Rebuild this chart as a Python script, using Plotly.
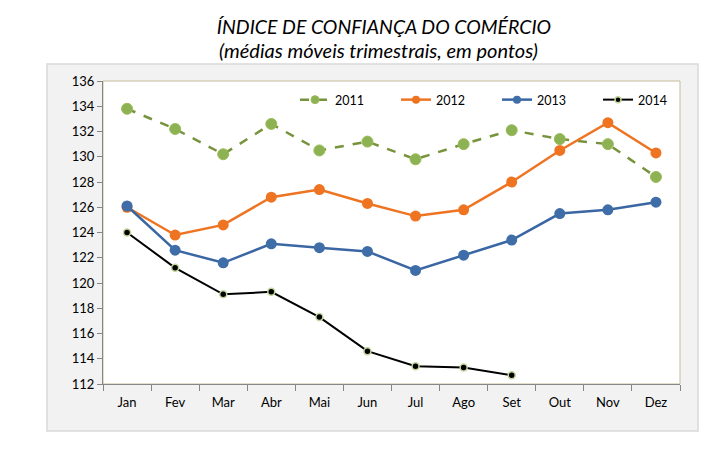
import plotly.graph_objects as go

months = ["Jan", "Fev", "Mar", "Abr", "Mai", "Jun", "Jul", "Ago", "Set", "Out", "Nov", "Dez"]
y2011 = [133.8, 132.2, 130.2, 132.6, 130.5, 131.2, 129.8, 131.0, 132.1, 131.4, 131.0, 128.4]
y2012 = [126.0, 123.8, 124.6, 126.8, 127.4, 126.3, 125.3, 125.8, 128.0, 130.5, 132.7, 130.3]
y2013 = [126.1, 122.6, 121.6, 123.1, 122.8, 122.5, 121.0, 122.2, 123.4, 125.5, 125.8, 126.4]
y2014 = [124.0, 121.2, 119.1, 119.3, 117.3, 114.6, 113.4, 113.3, 112.7]
y_ticks = list(range(112, 137, 2))

FONT = "Lato"
W, H = 723, 454
L, R, T, B = 103, 680, 81, 384  # plot area in pixels
PW, PH = R - L, B - T


def px_x(p):
    return (p - L) / PW


def px_y(p):
    return (B - p) / PH


styles = [
    ("2011", y2011, dict(color="#77933C", width=2.5, dash="dash"),
     dict(color="#8DB253", size=11, line=dict(color="#9BBB59", width=1)), 8),
    ("2012", y2012, dict(color="#EE7422", width=2.5),
     dict(color="#EE7422", size=11), 8),
    ("2013", y2013, dict(color="#3A67A3", width=2.5),
     dict(color="#3F6DA8", size=11), 8),
    ("2014", y2014, dict(color="#000000", width=2),
     dict(color="#000000", size=7, line=dict(color="#C3D69B", width=1.5)), 6),
]

fig = go.Figure()
for name, ys, line, marker, _ in styles:
    fig.add_trace(go.Scatter(
        x=months[:len(ys)], y=ys, name=name, mode="lines+markers",
        line=line, marker=marker, showlegend=False))
# legend entries (smaller symbols, as in the reference legend)
for name, ys, line, marker, lsize in styles:
    m = dict(marker)
    m["size"] = lsize
    fig.add_trace(go.Scatter(
        x=[None], y=[None], name=name, mode="lines+markers",
        line=line, marker=m, showlegend=True, hoverinfo="skip"))

fig.update_layout(
    width=W, height=H,
    margin=dict(l=L, r=W - R, t=T, b=H - B, autoexpand=False),
    paper_bgcolor="white", plot_bgcolor="white",
    font=dict(family=FONT, size=12, color="#000000"),
    title=dict(
        text="<i>ÍNDICE DE CONFIANÇA DO COMÉRCIO</i>",
        x=384 / W, xanchor="center", y=1 - 27 / H, yanchor="middle",
        font=dict(family=FONT, size=19.5, color="#000000")),
    annotations=[dict(
        text="<i>(médias móveis trimestrais, em pontos)</i>",
        xref="paper", yref="paper", x=px_x(378), y=px_y(50),
        xanchor="center", yanchor="middle", showarrow=False,
        font=dict(family=FONT, size=20, color="#000000"))],
    showlegend=True,
    legend=dict(orientation="h", x=px_x(295), xanchor="left", y=px_y(100), yanchor="middle",
                bgcolor="rgba(0,0,0,0)", font=dict(size=12.5),
                entrywidth=56, entrywidthmode="pixels", tracegroupgap=0),
    shapes=[
        dict(type="rect", xref="paper", yref="paper",
             x0=px_x(47), x1=px_x(698), y0=px_y(431), y1=px_y(64),
             fillcolor="#F2F2F2", line=dict(color="#D9D9D9", width=1.5), layer="below"),
        dict(type="rect", xref="paper", yref="paper", x0=0, x1=1, y0=0, y1=1,
             fillcolor="white", line=dict(color="#C4BD97", width=1), layer="below"),
    ],
)
fig.update_xaxes(
    type="category", categoryorder="array", categoryarray=months,
    tickson="boundaries", ticks="outside", ticklen=6, tickcolor="#868686",
    showline=True, linecolor="#868686", linewidth=1, mirror=False,
    showgrid=False, zeroline=False, tickfont=dict(size=13), range=[-0.5, 11.5],
    ticklabelstandoff=6)
fig.update_yaxes(
    range=[112, 136], tickvals=y_ticks, ticks="outside", ticklen=5, tickcolor="#868686",
    showline=True, linecolor="#868686", linewidth=1, mirror=False,
    showgrid=False, zeroline=False, tickfont=dict(size=13))

fig.write_html("out.html", config={"displayModeBar": False},
               post_script="document.body.style.margin='0';document.body.style.overflow='hidden';")
